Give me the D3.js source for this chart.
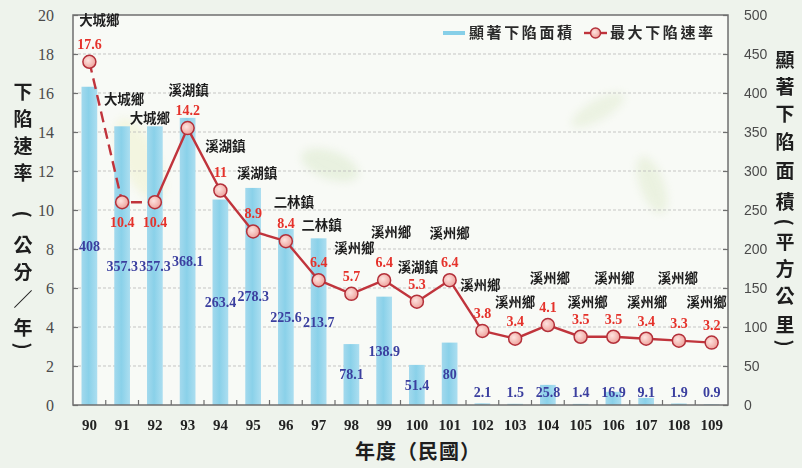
<!DOCTYPE html>
<html>
<head>
<meta charset="utf-8">
<script src="https://cdn.jsdelivr.net/npm/d3@7"></script>
<style>
  html, body { margin: 0; padding: 0; background: #eef3ec; }
  svg { display: block; }
</style>
</head>
<body>
<svg id="chart" width="802" height="468"></svg>
<script>
// 年度（民國）
const years = ['90','91','92','93','94','95','96','97','98','99','100','101','102','103','104','105','106','107','108','109'];
// 最大下陷速率所在鄉鎮
const towns = ['大城鄉','大城鄉','大城鄉','溪湖鎮','溪湖鎮','溪湖鎮','二林鎮','二林鎮','溪州鄉','溪州鄉','溪湖鎮','溪州鄉','溪州鄉','溪州鄉','溪州鄉','溪州鄉','溪州鄉','溪州鄉','溪州鄉','溪州鄉'];
// 顯著下陷面積（平方公里）
const areaValues = [408, 357.3, 357.3, 368.1, 263.4, 278.3, 225.6, 213.7, 78.1, 138.9, 51.4, 80, 2.1, 1.5, 25.8, 1.4, 16.9, 9.1, 1.9, 0.9];
// 最大下陷速率（公分／年）
const rateValues = [17.6, 10.4, 10.4, 14.2, 11, 8.9, 8.4, 6.4, 5.7, 6.4, 5.3, 6.4, 3.8, 3.4, 4.1, 3.5, 3.5, 3.4, 3.3, 3.2];
const rateTicks = [0, 2, 4, 6, 8, 10, 12, 14, 16, 18, 20];
const areaTicks = [0, 50, 100, 150, 200, 250, 300, 350, 400, 450, 500];

// label nudges for the town names (relative to each rate point)
const townNudge = [[10,-42],[2,-103],[-5,-84],[1,-38],[5,-45],[4,-59],[8,-39],[3,-55],[3,-46],[7,-48],[1,-35],[0,-47],[-2,-46],[0,-37],[2,-47],[7,-35],[1,-59],[1,-37],[-1,-63],[-5,-41]];
// rate labels drawn under the point for these years
const rateBelow = new Set(['91','92']);

const svg = d3.select('#chart');
const W = 802, H = 468;
const plot = {left: 73, right: 728, top: 15, bottom: 405};

const CJK = '"Noto Sans CJK TC", "Noto Sans CJK SC", sans-serif';
const SERIF = '"Liberation Serif", "DejaVu Serif", serif';
const SANS = '"Liberation Sans", Arial, sans-serif';

const defs = svg.append('defs');
const barGrad = defs.append('linearGradient').attr('id', 'barGrad').attr('x1', 0).attr('x2', 1).attr('y1', 0).attr('y2', 0);
barGrad.append('stop').attr('offset', '0%').attr('stop-color', '#a3d9ed');
barGrad.append('stop').attr('offset', '45%').attr('stop-color', '#8ad1e9');
barGrad.append('stop').attr('offset', '100%').attr('stop-color', '#acdef0');
const dotGrad = defs.append('radialGradient').attr('id', 'dotGrad').attr('cx', '40%').attr('cy', '40%').attr('r', '65%');
dotGrad.append('stop').attr('offset', '0%').attr('stop-color', '#fde3df');
dotGrad.append('stop').attr('offset', '100%').attr('stop-color', '#ee9f98');
const leafBlur = defs.append('filter').attr('id', 'soft').attr('x', '-50%').attr('y', '-50%').attr('width', '200%').attr('height', '200%');
leafBlur.append('feGaussianBlur').attr('stdDeviation', 4);

// background
svg.append('rect').attr('width', W).attr('height', H).attr('fill', '#eef3ec');
svg.append('rect')
  .attr('x', plot.left).attr('y', plot.top)
  .attr('width', plot.right - plot.left).attr('height', plot.bottom - plot.top)
  .attr('fill', '#f8faf6');

// faint watercolour leaves
const leaves = svg.append('g').attr('filter', 'url(#soft)').attr('opacity', 0.45);
leaves.append('ellipse').attr('cx', 330).attr('cy', 165).attr('rx', 30).attr('ry', 14).attr('transform', 'rotate(20 330 165)').attr('fill', '#d6e6c4');
leaves.append('ellipse').attr('cx', 652).attr('cy', 185).attr('rx', 12).attr('ry', 30).attr('transform', 'rotate(-20 652 185)').attr('fill', '#dbe8c6');
leaves.append('ellipse').attr('cx', 598).attr('cy', 110).attr('rx', 30).attr('ry', 10).attr('transform', 'rotate(-30 598 110)').attr('fill', '#dde9ca');
leaves.append('ellipse').attr('cx', 140).attr('cy', 160).attr('rx', 18).attr('ry', 45).attr('transform', 'rotate(-25 140 160)').attr('fill', '#eef0c6');

// scales
const x = d3.scaleBand().domain(years).range([plot.left, plot.right]).padding(0);
const yRate = d3.scaleLinear().domain([0, 20]).range([plot.bottom, plot.top]);
const yArea = d3.scaleLinear().domain([0, 500]).range([plot.bottom, plot.top]);

// gridlines
svg.append('g')
  .selectAll('line').data(rateTicks.filter(t => t > 0 && t < 20)).join('line')
  .attr('x1', plot.left).attr('x2', plot.right)
  .attr('y1', d => yRate(d)).attr('y2', d => yRate(d))
  .attr('stroke', '#b9b9b9').attr('stroke-width', 1).attr('stroke-dasharray', '3,2').attr('opacity', 0.8);

// bars
const barW = x.bandwidth() * 0.48;
svg.append('g')
  .selectAll('rect').data(areaValues).join('rect')
  .attr('x', (d, i) => x(years[i]) + (x.bandwidth() - barW) / 2)
  .attr('y', d => yArea(d))
  .attr('width', barW)
  .attr('height', d => yArea(0) - yArea(d))
  .attr('fill', 'url(#barGrad)');

// frame and axes
const frameColor = '#6f6f6f';
svg.append('rect')
  .attr('x', plot.left).attr('y', plot.top)
  .attr('width', plot.right - plot.left).attr('height', plot.bottom - plot.top)
  .attr('fill', 'none').attr('stroke', frameColor).attr('stroke-width', 1.5);

const leftAxis = svg.append('g').attr('transform', `translate(${plot.left},0)`)
  .call(d3.axisRight(yRate).tickValues(rateTicks).tickSize(5).tickFormat(''));
leftAxis.select('.domain').remove();
leftAxis.selectAll('line').attr('stroke', frameColor).attr('stroke-width', 1.2);
svg.append('g').selectAll('text').data(rateTicks).join('text')
  .attr('x', 54).attr('y', d => yRate(d)).attr('dy', '0.35em')
  .attr('text-anchor', 'end')
  .attr('font-family', SERIF).attr('font-size', 16).attr('fill', '#4a4a4a')
  .text(d => d);

const rightAxis = svg.append('g').attr('transform', `translate(${plot.right},0)`)
  .call(d3.axisLeft(yArea).tickValues(areaTicks).tickSize(5).tickFormat(''));
rightAxis.select('.domain').remove();
rightAxis.selectAll('line').attr('stroke', frameColor).attr('stroke-width', 1.2);
svg.append('g').selectAll('text').data(areaTicks).join('text')
  .attr('x', 744).attr('y', d => yArea(d)).attr('dy', '0.35em')
  .attr('text-anchor', 'start')
  .attr('font-family', SANS).attr('font-size', 14).attr('fill', '#4a4a4a')
  .text(d => d);

// category separators on the bottom axis
svg.append('g').selectAll('line').data(years.slice(1)).join('line')
  .attr('x1', d => x(d)).attr('x2', d => x(d))
  .attr('y1', plot.bottom).attr('y2', plot.bottom - 5)
  .attr('stroke', frameColor).attr('stroke-width', 1.2);
const bottomAxis = svg.append('g').attr('transform', `translate(0,${plot.bottom})`)
  .call(d3.axisBottom(x).tickSize(0).tickPadding(14));
bottomAxis.select('.domain').remove();
bottomAxis.selectAll('text')
  .attr('font-family', SERIF).attr('font-weight', 'bold').attr('font-size', 15).attr('fill', '#222');

// bar value labels
svg.append('g').selectAll('text').data(areaValues).join('text')
  .attr('x', (d, i) => x(years[i]) + x.bandwidth() / 2)
  .attr('y', d => Math.min((yArea(d) + yArea(0)) / 2, yArea(0) - 13))
  .attr('dy', '0.35em')
  .attr('text-anchor', 'middle')
  .attr('font-family', SERIF).attr('font-weight', 'bold').attr('font-size', 14)
  .attr('fill', '#3b3f9f')
  .text(d => d);

// rate line: the first two spans are dashed
const cx = i => x(years[i]) + x.bandwidth() / 2;
const lineGen = d3.line().x(d => cx(d.i)).y(d => yRate(d.v));
const pts = rateValues.map((v, i) => ({v, i}));
const lineColor = '#c0343c';
svg.append('path').datum(pts.slice(0, 3)).attr('d', lineGen)
  .attr('fill', 'none').attr('stroke', lineColor).attr('stroke-width', 2.4).attr('stroke-dasharray', '11,6');
svg.append('path').datum(pts.slice(2)).attr('d', lineGen)
  .attr('fill', 'none').attr('stroke', lineColor).attr('stroke-width', 2.4).attr('stroke-linejoin', 'round');
svg.append('g').selectAll('circle').data(pts).join('circle')
  .attr('cx', d => cx(d.i)).attr('cy', d => yRate(d.v)).attr('r', 6.5)
  .attr('fill', 'url(#dotGrad)').attr('stroke', '#b3303a').attr('stroke-width', 1.5);

// rate value labels
svg.append('g').selectAll('text').data(pts).join('text')
  .attr('x', d => cx(d.i))
  .attr('y', d => yRate(d.v) + (rateBelow.has(years[d.i]) ? 20 : -18))
  .attr('dy', '0.35em')
  .attr('text-anchor', 'middle')
  .attr('font-family', SERIF).attr('font-weight', 'bold').attr('font-size', 14)
  .attr('fill', '#e5322b')
  .text(d => d.v);

// town labels
svg.append('g').selectAll('text').data(pts).join('text')
  .attr('x', d => cx(d.i) + townNudge[d.i][0])
  .attr('y', d => yRate(d.v) + townNudge[d.i][1])
  .attr('dy', '0.38em')
  .attr('text-anchor', 'middle')
  .attr('font-family', CJK).attr('font-weight', 'bold').attr('font-size', 13.5)
  .attr('fill', '#1e1e1e')
  .text(d => towns[d.i]);

// legend
const lg = svg.append('g');
lg.append('line').attr('x1', 443).attr('x2', 465).attr('y1', 33).attr('y2', 33)
  .attr('stroke', '#86cfe8').attr('stroke-width', 4);
lg.append('text').attr('x', 469).attr('y', 33).attr('dy', '0.36em')
  .attr('font-family', CJK).attr('font-weight', 'bold').attr('font-size', 15).attr('letter-spacing', 2.6)
  .attr('fill', '#2a2a2a').text('顯著下陷面積');
lg.append('line').attr('x1', 584).attr('x2', 607).attr('y1', 33).attr('y2', 33)
  .attr('stroke', lineColor).attr('stroke-width', 2.4);
lg.append('circle').attr('cx', 595.5).attr('cy', 33).attr('r', 5)
  .attr('fill', 'url(#dotGrad)').attr('stroke', '#b3303a').attr('stroke-width', 1.5);
lg.append('text').attr('x', 610).attr('y', 33).attr('dy', '0.36em')
  .attr('font-family', CJK).attr('font-weight', 'bold').attr('font-size', 15).attr('letter-spacing', 2.6)
  .attr('fill', '#2a2a2a').text('最大下陷速率');

// vertical axis titles, one glyph per row; brackets are turned a quarter so they open along the column
function verticalTitle(chars, xPos, ys) {
  svg.append('g').selectAll('text').data(chars).join('text')
    .attr('x', xPos).attr('y', (d, i) => ys[i]).attr('dy', '0.36em')
    .attr('text-anchor', 'middle')
    .attr('transform', (d, i) => (d === '(' || d === ')') ? `rotate(90 ${xPos} ${ys[i]})` : null)
    .attr('font-family', CJK).attr('font-weight', 'bold').attr('font-size', 19)
    .attr('fill', '#1e1e1e')
    .text(d => d);
}
verticalTitle(['下','陷','速','率','(','公','分','／','年',')'], 23,
  [92, 119, 146, 173, 214, 245, 272, 300, 328, 346]);
verticalTitle(['顯','著','下','陷','面','積','(','平','方','公','里',')'], 785,
  [60, 87, 114, 142, 171, 202, 222, 242, 269, 296, 325, 343]);

// x axis title
svg.append('text').attr('x', 418).attr('y', 452).attr('dy', '0.36em')
  .attr('text-anchor', 'middle')
  .attr('font-family', CJK).attr('font-weight', 'bold').attr('font-size', 20)
  .attr('letter-spacing', 1)
  .attr('fill', '#1e1e1e')
  .text('年度（民國）');
</script>
</body>
</html>
